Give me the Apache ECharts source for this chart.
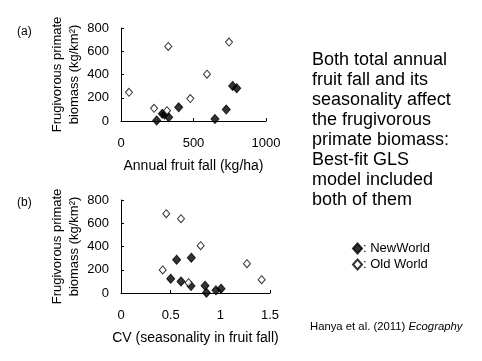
<!DOCTYPE html>
<html>
<head>
<meta charset="utf-8">
<script src="https://cdn.jsdelivr.net/npm/echarts@6/dist/echarts.min.js"></script>
<style>html,body{margin:0;padding:0;background:#fff}#c{width:482px;height:361px}</style>
</head>
<body>
<div id="c"></div>
<script>
// Panel (a): annual fruit fall (kg/ha) vs biomass (kg/km2)
var fallNewWorld = [[246, 5], [285, 62], [300, 55], [329, 32], [398, 118], [648, 17], [726, 98], [770, 302], [798, 282]];
var fallOldWorld = [[55, 247], [228, 109], [317, 89], [326, 641], [478, 193], [593, 403], [745, 679]];
// Panel (b): CV (seasonality) vs biomass
var cvNewWorld = [[0.50, 123], [0.56, 287], [0.604, 100], [0.705, 60], [0.708, 304], [0.846, 63], [0.86, 3], [0.956, 23], [1.007, 37]];
var cvOldWorld = [[0.42, 198], [0.456, 682], [0.604, 639], [0.68, 89], [0.802, 407], [1.268, 252], [1.416, 115]];
var yTicks = [0, 200, 400, 600, 800];
var xTicksA = [0, 500, 1000];
var xTicksB = [0, 0.5, 1, 1.5];

var FONT = 'Liberation Sans, Arial, sans-serif';
var chart = echarts.init(document.getElementById('c'), null, {renderer: 'canvas'});

function axisCommon() {
  return {
    axisLine: {show: true, lineStyle: {color: '#000', width: 1}},
    axisTick: {show: true, inside: true, length: 3, lineStyle: {color: '#000'}},
    splitLine: {show: false},
    axisLabel: {color: '#000', fontFamily: FONT, fontSize: 13, formatter: function (v) { return String(v); }}
  };
}
function xAxis(idx, max, interval, name, gap) {
  var a = axisCommon();
  a.type = 'value'; a.gridIndex = idx; a.min = 0; a.max = max; a.interval = interval;
  a.name = name; a.nameLocation = 'middle'; a.nameGap = gap;
  a.nameTextStyle = {color: '#000', fontFamily: FONT, fontSize: 14};
  a.axisLabel.margin = 16;
  return a;
}
function yAxis(idx) {
  var a = axisCommon();
  a.type = 'value'; a.gridIndex = idx; a.min = yTicks[0]; a.max = yTicks[yTicks.length - 1];
  a.interval = yTicks[1] - yTicks[0];
  a.name = 'Frugivorous primate\nbiomass (kg/km\u00B2)';
  a.nameLocation = 'middle'; a.nameRotate = 90; a.nameGap = 38;
  a.nameTextStyle = {color: '#000', fontFamily: FONT, fontSize: 13, lineHeight: 17};
  a.axisLabel.margin = 12;
  return a;
}
var filled = {color: '#000', borderColor: '#000', borderWidth: 1};
var open = {color: '#fff', borderColor: '#000', borderWidth: 1};

chart.setOption({
  animation: false,
  backgroundColor: '#fff',
  grid: [
    {left: 121, top: 28, width: 145, height: 93},
    {left: 121, top: 200, width: 149, height: 93}
  ],
  xAxis: [
    xAxis(0, xTicksA[xTicksA.length - 1], xTicksA[1] - xTicksA[0], 'Annual fruit fall (kg/ha)', 38),
    xAxis(1, xTicksB[xTicksB.length - 1], xTicksB[1] - xTicksB[0], 'CV (seasonality in fruit fall)', 38)
  ],
  yAxis: [yAxis(0), yAxis(1)],
  legend: {
    left: 347, top: 237, orient: 'vertical', itemGap: 3,
    itemWidth: 9, itemHeight: 10,
    data: [{name: 'NewWorld', icon: 'diamond'}, {name: 'Old World', icon: 'diamond'}],
    formatter: function (n) { return ': ' + n; },
    textStyle: {color: '#000', fontFamily: FONT, fontSize: 13, padding: [0, 0, 0, -4]}
  },
  series: [
    {type: 'scatter', name: 'NewWorld', xAxisIndex: 0, yAxisIndex: 0, data: fallNewWorld, symbol: 'diamond', symbolSize: [8, 9], itemStyle: filled},
    {type: 'scatter', name: 'Old World', xAxisIndex: 0, yAxisIndex: 0, data: fallOldWorld, symbol: 'diamond', symbolSize: [7, 8], itemStyle: open},
    {type: 'scatter', name: 'NewWorld', xAxisIndex: 1, yAxisIndex: 1, data: cvNewWorld, symbol: 'diamond', symbolSize: [8, 9], itemStyle: filled},
    {type: 'scatter', name: 'Old World', xAxisIndex: 1, yAxisIndex: 1, data: cvOldWorld, symbol: 'diamond', symbolSize: [7, 8], itemStyle: open}
  ],
  graphic: [
    {type: 'text', left: 17, top: 26, style: {text: '(a)', fill: '#000', font: '12px ' + FONT}},
    {type: 'text', left: 17, top: 197, style: {text: '(b)', fill: '#000', font: '12px ' + FONT}},
    {type: 'text', left: 312, top: 50, style: {
      text: 'Both total annual\nfruit fall and its\nseasonality affect\nthe frugivorous\nprimate biomass:\nBest-fit GLS\nmodel included\nboth of them',
      fill: '#000', font: '18px ' + FONT, lineHeight: 20}},
    {type: 'text', left: 310, top: 321, style: {
      text: '{n|Hanya et al. (2011) }{i|Ecography}',
      rich: {
        n: {fill: '#000', fontFamily: FONT, fontSize: 11.3},
        i: {fill: '#000', fontFamily: FONT, fontSize: 11.3, fontStyle: 'italic'}
      }}}
  ]
});
</script>
</body>
</html>
